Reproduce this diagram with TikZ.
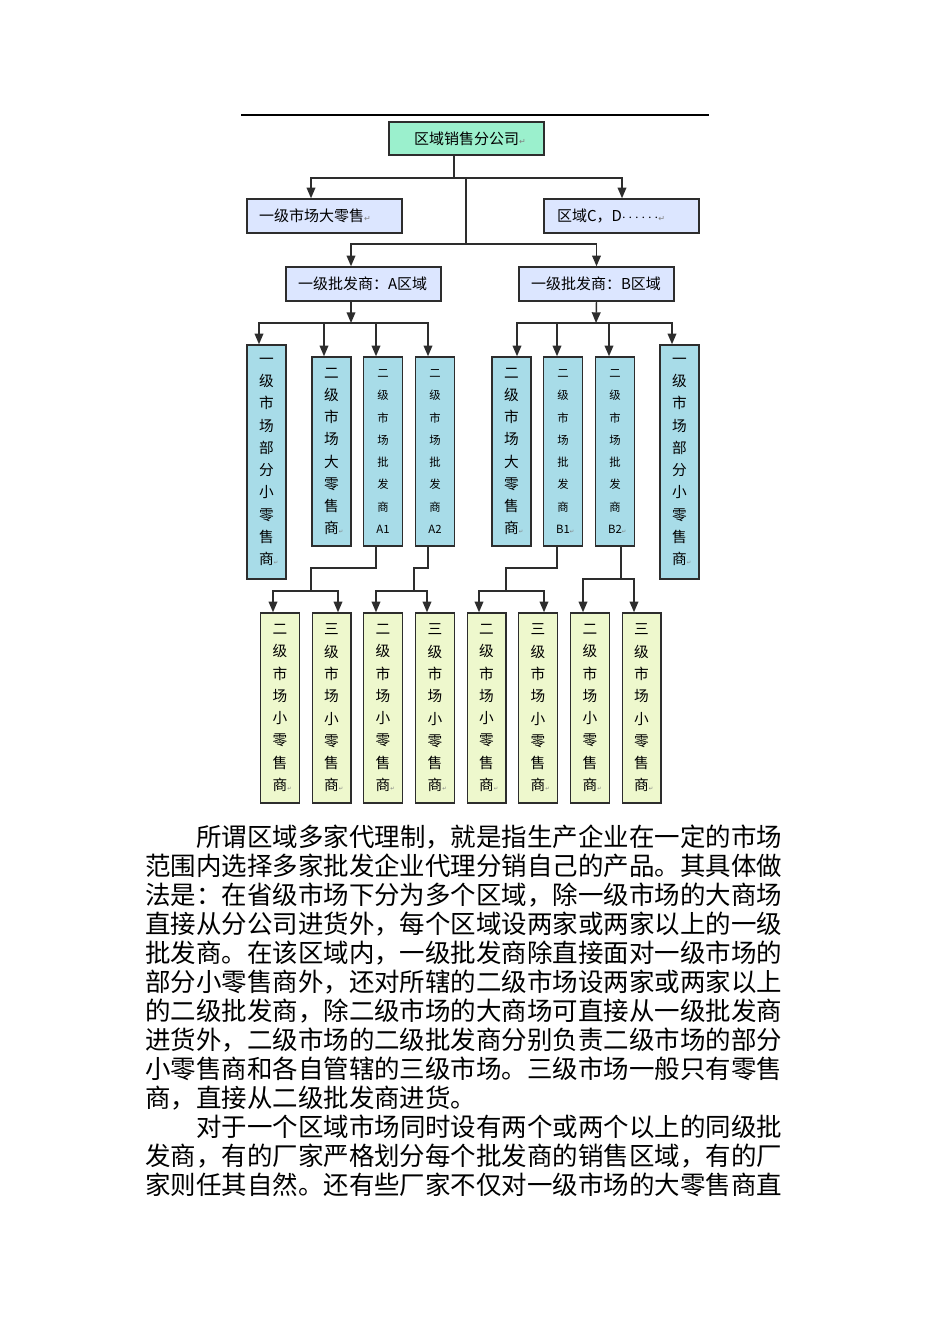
\documentclass[tikz,border=0pt]{standalone}
\usepackage{fontspec}
\newfontfamily\cjk{Noto Sans CJK SC}
\newfontfamily\djv{DejaVu Sans}
\usetikzlibrary{arrows.meta,calc}
\definecolor{mint}{RGB}{155,240,205}
\definecolor{hblue}{RGB}{220,230,255}
\definecolor{tblue}{RGB}{168,220,232}
\definecolor{ygreen}{RGB}{238,248,205}
\definecolor{lc}{RGB}{45,45,45}
\newcommand\pmk{\rlap{\textcolor{gray}{\djv\fontsize{6}{6}\selectfont ↵}}}
\newcommand\pmks{\rlap{\textcolor{gray}{\djv\fontsize{4}{4}\selectfont ↵}}}
\begin{document}
\begin{tikzpicture}[x=0.75pt,y=-0.75pt,
  conn/.style={draw=lc, line width=1.1pt},
  arr/.style={conn, -{Triangle[width=6.5pt,length=8pt]}},
  hbox/.style={draw=lc, line width=1.1pt, fill=hblue, minimum height=25.5pt,
    text width=98.25pt, inner xsep=9pt, inner ysep=0pt, align=left,
    font=\cjk\fontsize{11.25}{13}\selectfont},
  topbox/.style={hbox, fill=mint, text width=78.75pt, inner xsep=18.75pt, minimum height=24.75pt},
  vbox/.style={draw=lc, line width=1.1pt, fill=tblue, minimum width=29.25pt, inner sep=0pt,
    align=center, font=\cjk\fontsize{11}{16.7}\selectfont},
  tallbox/.style={vbox, minimum height=175.5pt},
  midbox/.style={vbox, minimum height=141.75pt},
  smallbox/.style={midbox, font=\cjk\fontsize{8.5}{16.7}\selectfont},
  botbox/.style={vbox, fill=ygreen, minimum width=28.9pt, minimum height=142.5pt},
  body/.style={anchor=west, inner sep=0pt, font=\cjk\fontsize{19.1}{21}\selectfont}]
\fill[white] (0,0) rectangle (950,1344);
\useasboundingbox (0,0) rectangle (950,1344);

\draw[line width=1.4pt, black] (241,115) -- (709,115);

% top levels
\node[topbox] (top) at (466.5,138.5) {区域销售分公司\pmk};
\node[hbox] (L1) at (324.5,216) {一级市场大零售\pmk};
\node[hbox, inner xsep=9.75pt, text width=96.75pt] (CD) at (621.5,216) {区域C，D$\cdots\cdots$\pmk};
\node[hbox] (A) at (363.5,284) {一级批发商：A区域};
\node[hbox] (B) at (596.5,284) {一级批发商：B区域};

% tall boxes
\node[tallbox] (P1) at (266.5,462) {一\\级\\市\\场\\部\\分\\小\\零\\售\\商\pmks};
\node[midbox] (DA) at (331.5,451.5) {二\\级\\市\\场\\大\\零\\售\\商\pmks};
\node[smallbox] (A1) at (383,451.5) {二\\级\\市\\场\\批\\发\\商\\A1};
\node[smallbox] (A2) at (435,451.5) {二\\级\\市\\场\\批\\发\\商\\A2};
\node[midbox] (DB) at (511.5,451.5) {二\\级\\市\\场\\大\\零\\售\\商\pmks};
\node[smallbox] (B1) at (563,451.5) {二\\级\\市\\场\\批\\发\\商\\B1\pmks};
\node[smallbox] (B2) at (615,451.5) {二\\级\\市\\场\\批\\发\\商\\B2\pmks};
\node[tallbox] (P2) at (679.5,462) {一\\级\\市\\场\\部\\分\\小\\零\\售\\商\pmks};

% bottom boxes
\node[botbox] (C1) at (280,708) {二\\级\\市\\场\\小\\零\\售\\商\pmks};
\node[botbox] (C2) at (331.5,708) {三\\级\\市\\场\\小\\零\\售\\商\pmks};
\node[botbox] (C3) at (383,708) {二\\级\\市\\场\\小\\零\\售\\商\pmks};
\node[botbox] (C4) at (435,708) {三\\级\\市\\场\\小\\零\\售\\商\pmks};
\node[botbox] (C5) at (486.5,708) {二\\级\\市\\场\\小\\零\\售\\商\pmks};
\node[botbox] (C6) at (538,708) {三\\级\\市\\场\\小\\零\\售\\商\pmks};
\node[botbox] (C7) at (590,708) {二\\级\\市\\场\\小\\零\\售\\商\pmks};
\node[botbox] (C8) at (641.5,708) {三\\级\\市\\场\\小\\零\\售\\商\pmks};

% connectors top
\coordinate (j1) at (454,178);
\coordinate (j2) at (466,178);
\coordinate (j3) at (466,244);
\draw[conn] ($(top.south)+(-12.5,0)$) -- (j1);
\draw[arr] (j1) -| ($(L1.north)+(-13.5,0)$);
\draw[arr] (j1) -| ($(CD.north)+(0.5,0)$);
\draw[conn] (j2) -- (j3);
\draw[arr] (j3) -| ($(A.north)+(-12.5,0)$);
\draw[arr] (j3) -| (B.north);

% A group
\coordinate (ja) at (351,323);
\draw[arr] ($(A.south)+(-12.5,0)$) -- (ja);
\draw[arr] (ja) -| ($(P1.north)+(-7.5,0)$);
\draw[arr] (ja) -| ($(DA.north)+(-7.5,0)$);
\draw[arr] (ja) -| ($(A1.north)+(-7,0)$);
\draw[arr] (ja) -| ($(A2.north)+(-7,0)$);

% B group
\coordinate (jb) at (596,323);
\draw[arr] (B.south) -- (jb);
\draw[arr] (jb) -| ($(DB.north)+(5.5,0)$);
\draw[arr] (jb) -| ($(B1.north)+(-6,0)$);
\draw[arr] (jb) -| ($(B2.north)+(-6,0)$);
\draw[arr] (jb) -| ($(P2.north)+(-7.5,0)$);

% bottom trees
\coordinate (ka0) at (311,568); \coordinate (ka) at (311,591);
\draw[conn] ($(A1.south)+(-7,0)$) |- (ka0) -- (ka);
\draw[arr] (ka) -| ($(C1.north)+(-7,0)$);
\draw[arr] (ka) -| ($(C2.north)+(6.5,0)$);

\coordinate (kb0) at (414,568); \coordinate (kb) at (414,591);
\draw[conn] ($(A2.south)+(-7,0)$) |- (kb0) -- (kb);
\draw[arr] (kb) -| ($(C3.north)+(-7,0)$);
\draw[arr] (kb) -| ($(C4.north)+(-8,0)$);

\coordinate (kc0) at (506,568); \coordinate (kc) at (506,591);
\draw[conn] ($(B1.south)+(-6,0)$) |- (kc0) -- (kc);
\draw[arr] (kc) -| ($(C5.north)+(-7.5,0)$);
\draw[arr] (kc) -| ($(C6.north)+(6,0)$);

\coordinate (kd) at (621,579);
\draw[conn] ($(B2.south)+(6,0)$) -- (kd);
\draw[arr] (kd) -| ($(C7.north)+(-7,0)$);
\draw[arr] (kd) -| ($(C8.north)+(-7.5,0)$);

% body text
\node[body] (t1) at (196,837) {所谓区域多家代理制，就是指生产企业在一定的市场};
\node[body] (t2) at (145,866) {范围内选择多家批发企业代理分销自己的产品。其具体做};
\node[body] (t3) at (145,895) {法是：在省级市场下分为多个区域，除一级市场的大商场};
\node[body] (t4) at (145,924) {直接从分公司进货外，每个区域设两家或两家以上的一级};
\node[body] (t5) at (145,953) {批发商。在该区域内，一级批发商除直接面对一级市场的};
\node[body] (t6) at (145,982) {部分小零售商外，还对所辖的二级市场设两家或两家以上};
\node[body] (t7) at (145,1011) {的二级批发商，除二级市场的大商场可直接从一级批发商};
\node[body] (t8) at (145,1040) {进货外，二级市场的二级批发商分别负责二级市场的部分};
\node[body] (t9) at (145,1069) {小零售商和各自管辖的三级市场。三级市场一般只有零售};
\node[body] (t10) at (145,1098) {商，直接从二级批发商进货。};
\node[body] (t11) at (196,1127) {对于一个区域市场同时设有两个或两个以上的同级批};
\node[body] (t12) at (145,1156) {发商，有的厂家严格划分每个批发商的销售区域，有的厂};
\node[body] (t13) at (145,1185) {家则任其自然。还有些厂家不仅对一级市场的大零售商直};
\end{tikzpicture}
\end{document}
